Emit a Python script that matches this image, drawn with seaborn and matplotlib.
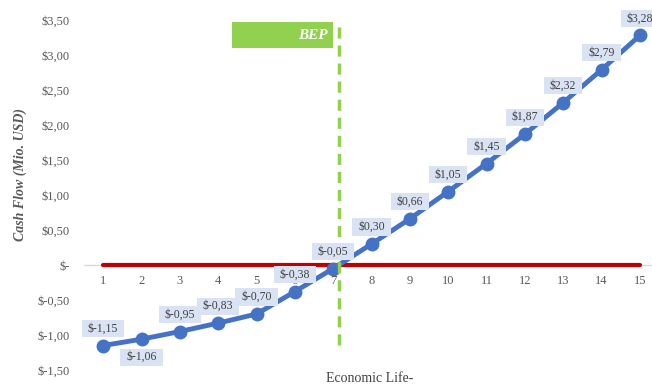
import matplotlib
matplotlib.use("Agg")
import matplotlib.pyplot as plt
from matplotlib.patches import Rectangle
from matplotlib.path import Path
import seaborn as sns
import pandas as pd

# Project cash flow over the economic life (million USD)
years = list(range(1, 16))
cash_flow = [-1.15, -1.06, -0.95, -0.83, -0.70, -0.38, -0.05,
             0.30, 0.66, 1.05, 1.45, 1.87, 2.32, 2.79, 3.28]
baseline = [0.0] * 15
label_below = [False, True] + [False] * 13
y_ticks = [-1.5, -1.0, -0.5, 0.0, 0.5, 1.0, 1.5, 2.0, 2.5, 3.0, 3.5]

df = pd.DataFrame({"year": years, "cash": cash_flow, "base": baseline})

# break-even year: where cumulative cash flow crosses zero
i = next(k for k, v in enumerate(cash_flow) if v >= 0)
bep_year = years[i - 1] + (0 - cash_flow[i - 1]) / (cash_flow[i] - cash_flow[i - 1])


def money(v):
    if abs(v) < 1e-9:
        return "$-"
    return "$" + f"{v:.2f}".replace(".", ",")


def label_box(x0, y0, width, height, mutation_size):
    # rectangle with more padding at the sides than top/bottom
    px = 0.5 * mutation_size
    py = 0.22 * mutation_size
    x1, y1 = x0 + width + px, y0 + height + py
    x0, y0 = x0 - px, y0 - py
    return Path([(x0, y0), (x1, y0), (x1, y1), (x0, y1), (x0, y0)], closed=True)


sns.set_theme(style="white")
plt.rcParams["font.family"] = ["Liberation Serif", "DejaVu Serif"]

fig = plt.figure(figsize=(6.52, 3.88), dpi=100)
ax = fig.add_axes([84 / 652, 18 / 388, 575 / 652, 352 / 388])
ax.set_xlim(0.5, 15.5)
ax.set_ylim(-1.5, 3.53)

# zero axis
ax.axhline(0, color="#D9D9D9", lw=1.0, zorder=1)

sns.lineplot(data=df, x="year", y="base", ax=ax, color="#C00000",
             lw=3.0, zorder=2, legend=False)
sns.lineplot(data=df, x="year", y="cash", ax=ax, color="#4472C4",
             lw=3.5, marker="o", markersize=10, markeredgewidth=0,
             zorder=3, legend=False)

# break-even marker
ax.axvline(bep_year, ymin=(-1.14 + 1.5) / 5.03, ymax=(3.47 + 1.5) / 5.03,
           color="#92D050", lw=2.5, ls=(0, (3.2, 2.0)), zorder=4)
ax.add_patch(Rectangle((4.36, 3.10), 2.64, 0.37, facecolor="#92D050",
                       edgecolor="none", zorder=4))
ax.text(6.85, 3.285, "BEP", color="white", fontsize=11, fontweight="bold",
        fontstyle="italic", ha="right", va="center", zorder=5)

# data labels
for x, y, below in zip(years, cash_flow, label_below):
    off = -18 if below else 17
    ax.annotate(money(y), (x, y), xytext=(0, off), textcoords="offset pixels",
                ha="center", va="center", fontsize=8.5, color="#404040",
                zorder=6,
                bbox=dict(boxstyle=label_box, facecolor="#DAE3F3",
                          edgecolor="none"))

# category labels sit just below the zero line
for x in years:
    ax.annotate(str(x), (x, 0), xytext=(0, -16), textcoords="offset pixels",
                ha="center", va="center", fontsize=9, color="#595959")

ax.set_xticks([])
ax.set_yticks(y_ticks)
ax.set_yticklabels([money(v) for v in y_ticks], fontsize=9, color="#595959")
ax.tick_params(axis="y", length=0, pad=10)
for s in ax.spines.values():
    s.set_visible(False)

ax.set_xlabel("")
ax.set_ylabel("Cash Flow (Mio. USD)", fontsize=10, fontweight="bold",
              fontstyle="italic", color="#595959", va="center")
ax.yaxis.set_label_coords((20 - 84) / 575, (370 - 174) / 352)
fig.text(370 / 652, 1 - 379 / 388, "Economic Life-", ha="center", va="center",
         fontsize=10, color="#404040")

fig.savefig("out.png", dpi=100)
